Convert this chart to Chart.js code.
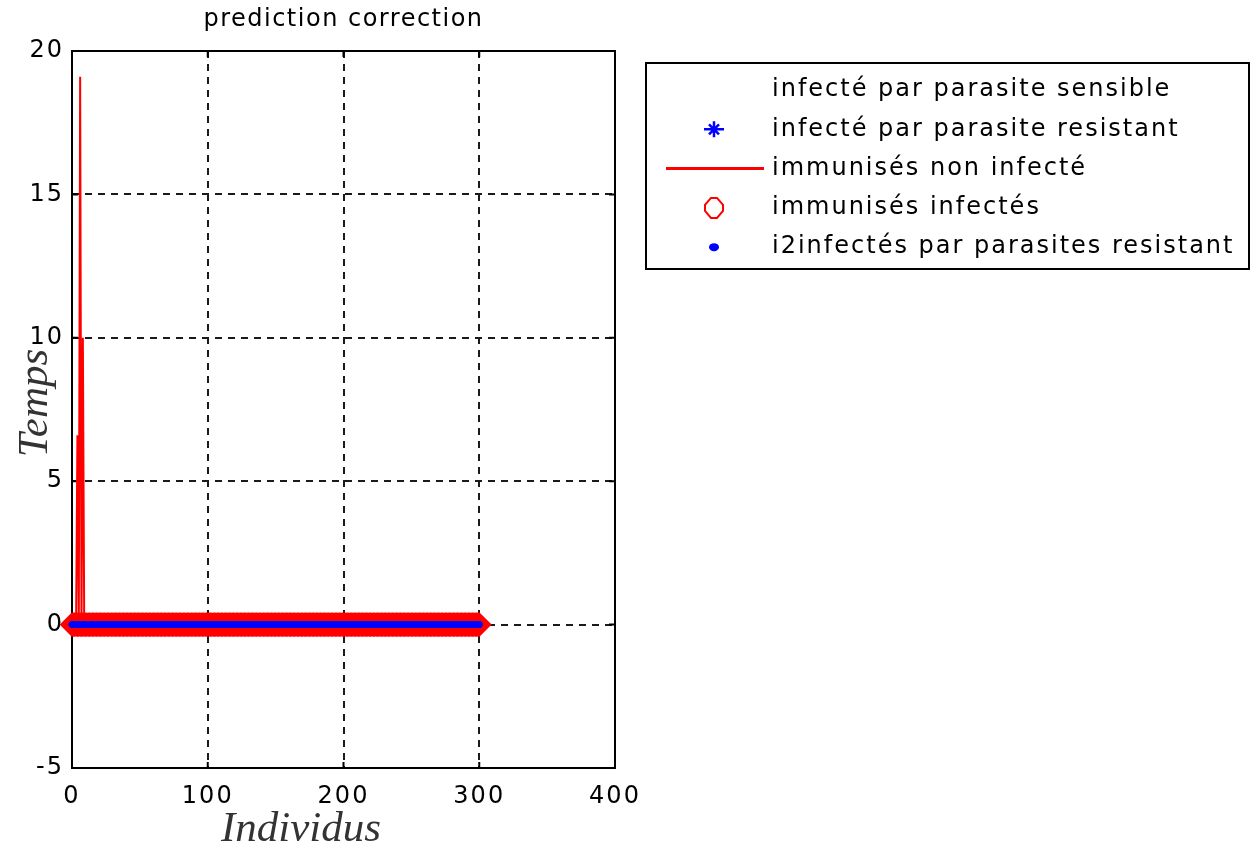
<!DOCTYPE html>
<html>
<head>
<meta charset="utf-8">
<script src="https://cdn.jsdelivr.net/npm/chart.js@4.4.1/dist/chart.umd.min.js"></script>
<style>
  html, body { margin: 0; padding: 0; background: #fff; }
  #graph { display: block; }
</style>
</head>
<body>
<canvas id="graph" width="1256" height="850"></canvas>
<script>
// individus 0..300, tous les compartiments restent a 0 sauf le pic du debut
const individus = Array.from({ length: 301 }, (_, i) => i);
const sensibles = new Array(301).fill(0);
const resistants = new Array(301).fill(0);
const nonInfectes = [0, 0, 0, 0, 6.6, 0, 19.1, 0, 10].concat(new Array(292).fill(0));
const immunInfectes = new Array(301).fill(0);
const i2Resistants = new Array(301).fill(0);

const labels = [
    'infecté par parasite sensible',
    'infecté par parasite resistant',
    'immunisés non infecté',
    'immunisés infectés',
    'i2infectés par parasites resistant'
];
const xTicks = [0, 100, 200, 300, 400];
const yTicks = [-5, 0, 5, 10, 15, 20];

const toPoints = ys => ys.map((y, i) => ({ x: individus[i], y: y }));

const TEXT_FONT = '24px "DejaVu Sans"';

// cadre + petites graduations vers l'interieur (style matlab)
const boxPlugin = {
    id: 'box',
    beforeDraw(chart) {
        // police large et espacée comme l'ecran d'origine
        chart.ctx.letterSpacing = '2px';
    },
    beforeDatasetsDraw(chart) {
        const { ctx, chartArea: a, scales } = chart;
        ctx.save();
        ctx.strokeStyle = '#000';
        ctx.lineWidth = 2;
        ctx.beginPath();
        xTicks.forEach(v => {
            const px = scales.x.getPixelForValue(v);
            ctx.moveTo(px, a.bottom); ctx.lineTo(px, a.bottom - 6);
            ctx.moveTo(px, a.top); ctx.lineTo(px, a.top + 6);
        });
        yTicks.forEach(v => {
            const py = scales.y.getPixelForValue(v);
            ctx.moveTo(a.left, py); ctx.lineTo(a.left + 6, py);
            ctx.moveTo(a.right, py); ctx.lineTo(a.right - 6, py);
        });
        ctx.stroke();
        ctx.strokeRect(a.left, a.top, a.right - a.left, a.bottom - a.top);
        ctx.restore();
    },
    afterDraw(chart) {
        const { ctx, chartArea: a } = chart;
        ctx.save();
        // titre
        ctx.fillStyle = '#000';
        ctx.font = TEXT_FONT;
        ctx.letterSpacing = '1.5px';
        ctx.textAlign = 'center';
        ctx.textBaseline = 'middle';
        ctx.fillText('prediction correction', (a.left + a.right) / 2, 20);

        // titres des axes
        ctx.letterSpacing = '0px';
        ctx.fillStyle = '#333';
        ctx.font = 'italic 43px "Liberation Serif"';
        ctx.fillText('Individus', 301, 830);
        ctx.translate(36, 403);
        ctx.rotate(-Math.PI / 2);
        ctx.fillText('Temps', 0, 0);
        ctx.restore();

        drawLegend(ctx);
    }
};

function drawLegend(ctx) {
    const bx = 646, by = 63, bw = 603, bh = 206;
    const symX = 714, textX = 772;
    ctx.save();
    ctx.fillStyle = '#fff';
    ctx.fillRect(bx, by, bw, bh);
    ctx.strokeStyle = '#000';
    ctx.lineWidth = 2;
    ctx.strokeRect(bx, by, bw, bh);

    labels.forEach((txt, i) => {
        const y = 90 + i * 39.3;
        ctx.fillStyle = '#000';
        ctx.font = TEXT_FONT;
        ctx.letterSpacing = '2px';
        ctx.textAlign = 'left';
        ctx.textBaseline = 'middle';
        ctx.fillText(txt, textX, y);
        ctx.letterSpacing = '0px';

        if (i === 1) {
            // etoile bleue
            ctx.strokeStyle = '#0000ff';
            ctx.lineWidth = 2.5;
            ctx.beginPath();
            ctx.moveTo(symX - 10, y); ctx.lineTo(symX + 10, y);
            ctx.moveTo(symX, y - 8); ctx.lineTo(symX, y + 8);
            ctx.moveTo(symX - 5, y - 5); ctx.lineTo(symX + 5, y + 5);
            ctx.moveTo(symX - 5, y + 5); ctx.lineTo(symX + 5, y - 5);
            ctx.stroke();
        } else if (i === 2) {
            ctx.strokeStyle = '#ff0000';
            ctx.lineWidth = 3;
            ctx.beginPath();
            ctx.moveTo(666, y); ctx.lineTo(764, y);
            ctx.stroke();
        } else if (i === 3) {
            // losange creux, un peu arrondi
            ctx.strokeStyle = '#ff0000';
            ctx.lineWidth = 2;
            ctx.beginPath();
            ctx.moveTo(symX - 3, y - 10); ctx.lineTo(symX + 3, y - 10);
            ctx.lineTo(symX + 9, y - 3); ctx.lineTo(symX + 9, y + 3);
            ctx.lineTo(symX + 3, y + 10); ctx.lineTo(symX - 3, y + 10);
            ctx.lineTo(symX - 9, y + 3); ctx.lineTo(symX - 9, y - 3);
            ctx.closePath();
            ctx.stroke();
        } else if (i === 4) {
            ctx.fillStyle = '#0000ff';
            ctx.beginPath();
            ctx.ellipse(symX, y, 5, 4, 0, 0, Math.PI * 2);
            ctx.fill();
        }
    });
    ctx.restore();
}

new Chart(document.getElementById('graph'), {
    type: 'line',
    data: {
        datasets: [
            {
                label: labels[0],
                data: toPoints(sensibles),
                borderColor: '#ffffff',
                borderWidth: 1,
                pointRadius: 0,
                order: 5
            },
            {
                label: labels[1],
                data: toPoints(resistants),
                showLine: false,
                pointStyle: 'star',
                pointRadius: 6,
                borderColor: '#0000ff',
                borderWidth: 2,
                order: 4
            },
            {
                label: labels[2],
                data: toPoints(nonInfectes),
                borderColor: '#ff0000',
                borderWidth: 2,
                pointRadius: 0,
                tension: 0,
                order: 3
            },
            {
                label: labels[3],
                data: toPoints(immunInfectes),
                showLine: false,
                pointStyle: 'rectRot',
                pointRadius: 11,
                borderColor: '#ff0000',
                backgroundColor: 'rgba(0,0,0,0)',
                borderWidth: 2,
                clip: 14,
                order: 2
            },
            {
                label: labels[4],
                data: toPoints(i2Resistants),
                showLine: false,
                pointStyle: 'circle',
                pointRadius: 3.5,
                borderWidth: 0,
                backgroundColor: '#0000ff',
                clip: 6,
                order: 1
            }
        ]
    },
    options: {
        responsive: false,
        animation: false,
        events: [],
        layout: { padding: { top: 51, right: 641, left: 0, bottom: 0 } },
        plugins: {
            legend: { display: false },
            title: { display: false },
            tooltip: { enabled: false }
        },
        scales: {
            x: {
                type: 'linear',
                min: 0,
                max: 400,
                afterFit: s => { s.height = 82; },
                afterBuildTicks: s => { s.ticks = xTicks.map(v => ({ value: v })); },
                ticks: { color: '#000', font: { family: 'DejaVu Sans', size: 24 }, padding: 14, maxRotation: 0 },
                grid: { color: '#1a1a1a', lineWidth: 2, drawTicks: false },
                border: { display: false, dash: [7, 6] }
            },
            y: {
                type: 'linear',
                min: -5,
                max: 20,
                afterFit: s => { s.width = 72; },
                afterBuildTicks: s => { s.ticks = yTicks.map(v => ({ value: v })); },
                ticks: { color: '#000', font: { family: 'DejaVu Sans', size: 24 }, padding: 8 },
                grid: { color: '#1a1a1a', lineWidth: 2, drawTicks: false },
                border: { display: false, dash: [7, 6] }
            }
        }
    },
    plugins: [boxPlugin]
});
</script>
</body>
</html>
